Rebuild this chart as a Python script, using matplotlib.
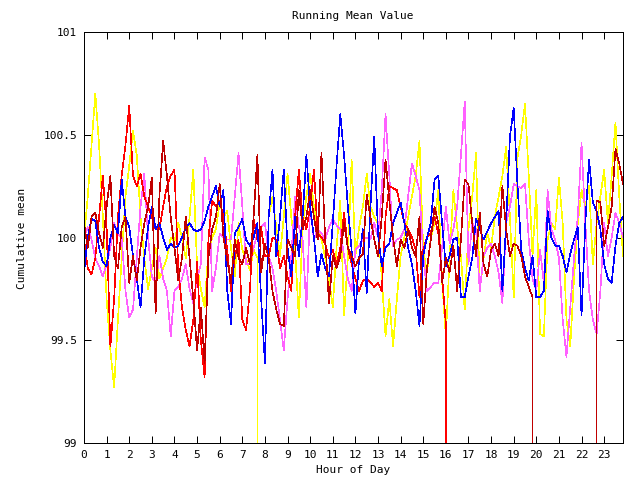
"""Running mean value per hour of day, gnuplot-style line chart."""

import matplotlib

matplotlib.use("Agg")
import matplotlib.pyplot as plt
import numpy as np

# 10-minute samples over the day
hours = np.arange(144) / 6.0

red = [
    99.99, 99.85, 99.82, 99.9, 100.1, 100.3, 100.05, 99.47, 99.7, 100.1, 100.3, 100.45,
    100.64, 100.3, 100.25, 100.31, 100.2, 100.15, 100.1, 100.04, 100.04, 100.15, 100.25, 100.3,
    100.33, 99.85, 99.66, 99.55, 99.47, 99.6, 99.88, 99.5, 99.32, 99.99, 100.18, 100.15,
    100.18, 100.1, 99.94, 99.74, 99.9, 99.99, 99.6, 99.55, 99.74, 100.09, 99.99, 100.05,
    99.91, 99.91, 100.0, 99.99, 99.85, 99.91, 99.81, 99.74, 100.1, 100.33, 100.1, 100.04,
    100.15, 100.33, 100.02, 100.0, 99.97, 99.9, 99.94, 99.87, 99.95, 100.12, 99.95, 99.87,
    99.8, 99.74, 99.79, 99.8, 99.78, 99.76, 99.78, 99.74, 100.1, 100.25, 100.24, 100.23,
    100.15, 100.07, 100.04, 100.0, 99.94, 99.71, 99.94, 100.0, 100.02, 100.1, 100.02, 99.81,
    99.58, 0.0,
]

dark_red = [
    100.07, 99.95, 100.1, 100.12, 100.02, 99.95, 100.15, 100.3, 99.91, 99.85, 100.05, 100.1,
    99.78, 99.91, 99.79, 99.95, 100.07, 100.15, 100.29, 99.63, 100.2, 100.47, 100.3, 100.1,
    99.95, 99.79, 99.9, 100.1, 99.9, 99.7, 99.45, 99.66, 99.39, 99.9, 100.04, 100.1,
    100.26, 100.0, 99.89, 99.78, 99.99, 99.9, 99.87, 99.95, 99.87, 100.1, 100.4, 99.83,
    99.97, 99.9, 99.74, 99.65, 99.58, 99.57, 99.99, 99.95, 99.91, 100.23, 100.04, 100.1,
    100.23, 100.1, 99.99, 100.41, 99.99, 99.68, 99.91, 99.85, 99.91, 100.07, 99.95, 99.91,
    99.86, 99.9, 99.92, 100.21, 100.1, 99.99, 99.91, 100.1, 100.38, 100.18, 100.0, 99.86,
    99.99, 99.95, 100.04, 99.95, 99.91, 100.1, 99.58, 99.85, 99.99, 100.15, 100.07, 99.78,
    99.9, 99.83, 99.96, 99.74, 99.99, 100.28, 100.26, 100.07, 99.91, 100.12, 99.87, 99.81,
    99.94, 99.97, 99.91, 100.25, 100.04, 99.91, 99.97, 99.96, 99.91, 99.81, 99.76, 99.71,
    0.0, 0.0, 0.0, 0.0, 0.0, 0.0, 0.0, 0.0, 0.0, 0.0, 0.0, 0.0,
    0.0, 0.0, 0.0, 0.0, 100.18, 100.17, 99.96, 100.05, 100.15, 100.43, 100.36, 100.26,
]

blue = [
    99.83, 100.0, 100.09, 100.08, 99.95, 99.88, 99.86, 100.0, 100.06, 100.02, 100.28, 100.1,
    100.05, 99.91, 99.8, 99.66, 99.9, 100.05, 100.15, 100.04, 100.07, 100.0, 99.94, 99.97,
    99.95, 99.96, 100.0, 100.05, 100.07, 100.04, 100.03, 100.04, 100.08, 100.15, 100.2, 100.25,
    100.15, 100.23, 99.74, 99.58, 100.02, 100.05, 100.09, 99.99, 99.96, 100.0, 100.07, 99.7,
    99.39, 100.1, 100.33, 99.91, 100.1, 100.33, 99.95, 99.81, 100.1, 99.91, 100.1, 100.4,
    100.15, 100.0, 99.81, 99.92, 99.85, 99.81, 100.07, 100.35, 100.6, 100.4, 100.15, 99.94,
    99.63, 99.9, 100.04, 99.73, 100.15, 100.49, 100.02, 99.86, 99.95, 99.97, 100.07, 100.12,
    100.17, 100.07, 99.95, 99.87, 99.74, 99.57, 99.91, 100.0, 100.07, 100.28, 100.3, 100.07,
    99.86, 99.91, 99.99, 100.0, 99.71, 99.71, 99.81, 99.9, 100.09, 100.04, 99.99, 100.03,
    100.07, 100.1, 100.13, 99.74, 100.07, 100.49, 100.63, 100.26, 99.94, 99.85, 99.79, 99.91,
    99.71, 99.71, 99.74, 100.13, 100.0, 99.96, 99.96, 99.91, 99.83, 99.92, 99.99, 100.05,
    99.62, 100.07, 100.38, 100.17, 100.13, 100.04, 99.87, 99.8, 99.78, 99.96, 100.07, 100.1,
]

magenta = [
    100.0, 100.05, 99.99, 99.9, 99.86, 99.81, 99.87, 99.95, 100.07, 100.02, 100.0, 99.74,
    99.61, 99.65, 99.9, 100.15, 100.31, 100.0, 99.81, 99.78, 99.91, 99.8, 99.74, 99.52,
    99.74, 99.76, 99.8, 99.87, 99.75, 99.68, 99.8, 99.87, 100.39, 100.33, 99.74, 99.85,
    100.02, 100.0, 99.99, 99.99, 100.2, 100.41, 100.15, 99.87, 99.87, 99.95, 100.02, 100.05,
    100.07, 99.91, 99.85, 99.74, 99.6, 99.45, 99.7, 99.91, 100.2, 100.05, 99.99, 99.66,
    100.15, 99.99, 100.04, 100.02, 99.99, 100.05, 100.09, 100.06, 100.04, 99.91, 99.8, 99.74,
    99.94, 99.96, 99.99, 100.0, 99.99, 100.07, 100.0, 100.23, 100.6, 100.3, 99.96, 99.99,
    100.0, 100.04, 100.2, 100.36, 100.3, 100.23, 99.91, 99.74, 99.76, 99.78, 99.78, 99.95,
    100.15, 99.97, 100.04, 100.15, 100.4, 100.66, 99.87, 100.07, 100.04, 99.74, 99.91, 99.95,
    99.97, 99.91, 99.83, 99.68, 100.07, 100.15, 100.26, 100.25, 100.24, 100.26, 99.99, 99.8,
    99.74, 99.94, 99.78, 100.23, 100.04, 99.99, 99.9, 99.6, 99.42, 99.66, 99.9, 100.1,
    100.46, 100.07, 99.74, 99.6, 99.53, 99.74, 100.07, 99.91, 100.0, 100.12, 100.07, 100.0,
]

yellow = [
    100.0, 100.2, 100.45, 100.7, 100.45, 100.1, 99.7, 99.45, 99.27, 99.6, 99.9, 100.2,
    100.35, 100.52, 100.4, 100.1, 99.9, 99.75, 99.85, 99.95, 99.8, 99.85, 99.9, 100.0,
    99.98, 100.07, 100.0, 99.9, 100.1, 100.33, 99.86, 99.75, 99.66, 99.94, 100.0, 100.04,
    100.17, 100.1, 100.13, 99.95, 99.81, 100.07, 99.94, 99.9, 99.84, 99.94, 99.9, 0.0,
    np.nan, 100.1, 100.2, 100.05, 99.91, 100.1, 100.31, 100.1, 99.94, 99.61, 100.05, 100.2,
    100.31, 100.15, 100.04, 99.99, 99.9, 99.8, 99.66, 99.95, 100.18, 99.62, 99.9, 100.38,
    99.91, 100.05, 100.15, 100.31, 100.15, 100.1, 100.07, 99.8, 99.52, 99.7, 99.47, 99.7,
    99.91, 100.0, 100.1, 100.2, 100.3, 100.47, 99.94, 99.83, 100.0, 100.07, 100.23, 99.79,
    99.52, 99.9, 100.23, 100.05, 99.91, 99.65, 100.04, 100.2, 100.41, 99.74, 99.9, 100.02,
    99.95, 100.1, 100.2, 100.3, 100.44, 100.1, 99.71, 100.39, 100.5, 100.65, 100.3, 99.91,
    100.23, 99.53, 99.52, 99.99, 100.07, 100.04, 100.29, 100.07, 99.6, 99.47, 99.8, 100.07,
    100.23, 100.15, 100.25, 99.87, 100.07, 100.2, 100.33, 100.07, 100.3, 100.56, 100.2, 99.91,
]

series = [
    (yellow, "#ffff00"),
    (magenta, "#ff60ff"),
    (red, "#ff0000"),
    (blue, "#0000ff"),
    (dark_red, "#c00000"),
]

plt.rcParams["font.family"] = "DejaVu Sans Mono"
plt.rcParams["font.size"] = 8

fig = plt.figure(figsize=(6.4, 4.8), dpi=100)
ax = fig.add_axes([84 / 640, 37 / 480, 539 / 640, 411 / 480])

for values, color in series:
    ax.plot(hours[: len(values)], values, color=color, linewidth=0.45, antialiased=False)

ax.set_xlim(0, hours[-1])
ax.set_ylim(99, 101)
ax.set_xticks(range(24))
ax.set_yticks([99, 99.5, 100, 100.5, 101])
ax.set_yticklabels(["99", "99.5", "100", "100.5", "101"])
ax.tick_params(direction="in", length=5, width=0.72, top=True, right=True, pad=5,
               labelsize=8, colors="black")
for spine in ax.spines.values():
    spine.set_linewidth(0.72)

fig.text(353 / 640, 1 - 16 / 480, "Running Mean Value", ha="center", va="center", fontsize=8)
fig.text(353 / 640, 1 - 470 / 480, "Hour of Day", ha="center", va="center", fontsize=8)
fig.text(22 / 640, 1 - 238 / 480, "Cumulative mean", ha="center", va="center",
         rotation=90, fontsize=8)

fig.savefig("out.png", dpi=100)
